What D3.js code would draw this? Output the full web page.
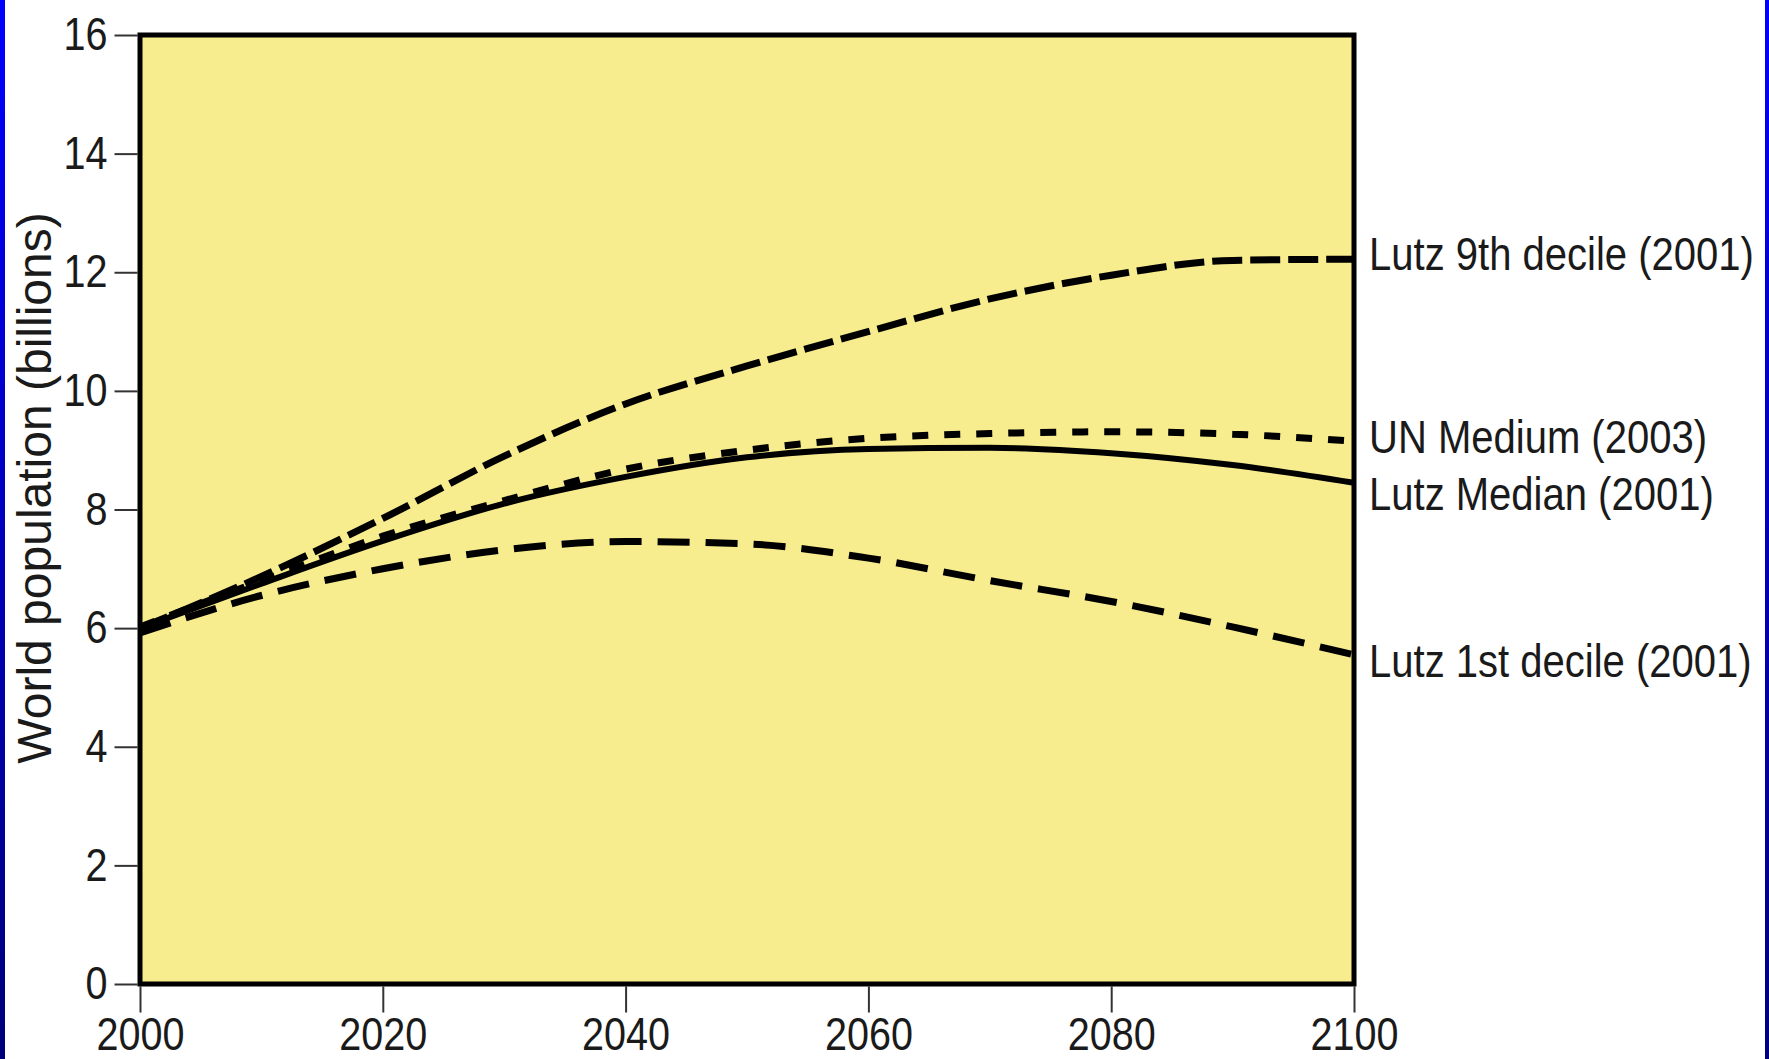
<!DOCTYPE html>
<html>
<head>
<meta charset="utf-8">
<script src="https://cdn.jsdelivr.net/npm/d3@7/dist/d3.min.js"></script>
<style>
body { margin: 0; background: #fff; }
text { font-family: "Liberation Sans", Arial, Helvetica, sans-serif; fill: #1a1a1a; }
</style>
</head>
<body>
<svg id="chart"></svg>
<script>
// data (billions)
var years = [2000, 2010, 2020, 2030, 2040, 2050, 2060, 2070, 2080, 2090, 2100]
var ninthDecile = [6.0, 6.87, 7.85, 8.9, 9.78, 10.42, 11.0, 11.55, 11.95, 12.2, 12.22]
var unMedium = [6.02, 6.8, 7.55, 8.15, 8.68, 9.0, 9.2, 9.28, 9.31, 9.27, 9.15]
var lutzMedian = [6.0, 6.75, 7.47, 8.1, 8.55, 8.88, 9.02, 9.04, 8.95, 8.75, 8.45]
var firstDecile = [5.92, 6.55, 7.0, 7.32, 7.46, 7.42, 7.18, 6.8, 6.45, 6.02, 5.55]
var seriesNames = ["Lutz 9th decile (2001)", "UN Medium (2003)", "Lutz Median (2001)", "Lutz 1st decile (2001)"]
var yTicks = [0, 2, 4, 6, 8, 10, 12, 14, 16]
var xTicks = [2000, 2020, 2040, 2060, 2080, 2100]

var screen = {width: 1769, height: 1059}
var plot = {left: 140, right: 1354, top: 35, bottom: 984}

var svg = d3.select("#chart")
    .attr("width", screen.width)
    .attr("height", screen.height)

// blue side strips
var grad = svg.append("defs").append("linearGradient")
    .attr("id", "side").attr("x1", 0).attr("y1", 0).attr("x2", 0).attr("y2", 1)
grad.append("stop").attr("offset", "0%").attr("stop-color", "#0000ff")
grad.append("stop").attr("offset", "100%").attr("stop-color", "#00007a")
svg.append("rect").attr("x", 0).attr("y", 0).attr("width", 5).attr("height", screen.height).attr("fill", "url(#side)")
svg.append("rect").attr("x", screen.width - 4).attr("y", 0).attr("width", 4).attr("height", screen.height).attr("fill", "url(#side)")

var xScale = d3.scaleLinear().domain([2000, 2100]).range([plot.left, plot.right])
var yScale = d3.scaleLinear().domain([0, 16]).range([plot.bottom, plot.top])

svg.append("rect")
    .attr("x", plot.left).attr("y", plot.top)
    .attr("width", plot.right - plot.left).attr("height", plot.bottom - plot.top)
    .attr("fill", "#f7ec8e")

// squeeze text horizontally like the original condensed type
var squeeze = function(sel, k) {
    sel.each(function() {
        var t = d3.select(this)
        var x = +t.attr("x") || 0
        var y = +t.attr("y") || 0
        t.attr("x", 0).attr("y", 0)
            .attr("transform", "translate(" + x + "," + y + ") scale(" + k + ",1)")
    })
}

var yAxis = d3.axisLeft(yScale).tickValues(yTicks).tickSizeInner(23).tickSizeOuter(0).tickPadding(7)
var gy = svg.append("g").attr("transform", "translate(" + (plot.left - 2.5) + ",0)").call(yAxis)
gy.select(".domain").remove()
gy.selectAll("line").attr("stroke", "#333").attr("stroke-width", 2)
gy.selectAll("text").style("font-size", "46px").attr("fill", "#1a1a1a")
    .attr("font-family", null)
squeeze(gy.selectAll("text"), 0.86)

var xAxis = d3.axisBottom(xScale).tickValues(xTicks).tickFormat(d3.format("d")).tickSizeInner(26).tickSizeOuter(0).tickPadding(5)
var gx = svg.append("g").attr("transform", "translate(0," + (plot.bottom + 2.5) + ")").call(xAxis)
gx.select(".domain").remove()
gx.selectAll("line").attr("stroke", "#333").attr("stroke-width", 2)
gx.selectAll("text").style("font-size", "46px").attr("fill", "#1a1a1a")
    .attr("font-family", null)
squeeze(gx.selectAll("text"), 0.86)

svg.append("text")
    .attr("transform", "translate(51,488) rotate(-90)")
    .attr("text-anchor", "middle")
    .style("font-size", "48px")
    .text("World population (billions)")

var allSeries = [ninthDecile, unMedium, lutzMedian, firstDecile]
var dashes = ["30,8", "16,16", null, "32,16"]
var widths = [7, 7, 6, 7]
var labelShift = [11, 12, 27, 22]

var line = d3.line()
    .x(function(d, i) { return xScale(years[i]) })
    .y(function(d) { return yScale(d) })
    .curve(d3.curveMonotoneX)

allSeries.forEach(function(vals, s) {
    svg.append("path")
        .datum(vals)
        .attr("d", line)
        .attr("fill", "none")
        .attr("stroke", "#000")
        .attr("stroke-width", widths[s])
        .attr("stroke-dasharray", dashes[s])
})

// frame on top of the curves
svg.append("rect")
    .attr("x", plot.left).attr("y", plot.top)
    .attr("width", plot.right - plot.left).attr("height", plot.bottom - plot.top)
    .attr("fill", "none").attr("stroke", "#000").attr("stroke-width", 5)

var labels = svg.append("g").selectAll("text")
    .data(allSeries)
    .enter()
    .append("text")
    .attr("x", xScale(2100) + 15)
    .attr("y", function(d, i) { return yScale(d[d.length - 1]) + labelShift[i] })
    .style("font-size", "46px")
    .text(function(d, i) { return seriesNames[i] })
squeeze(labels, 0.87)
</script>
</body>
</html>
